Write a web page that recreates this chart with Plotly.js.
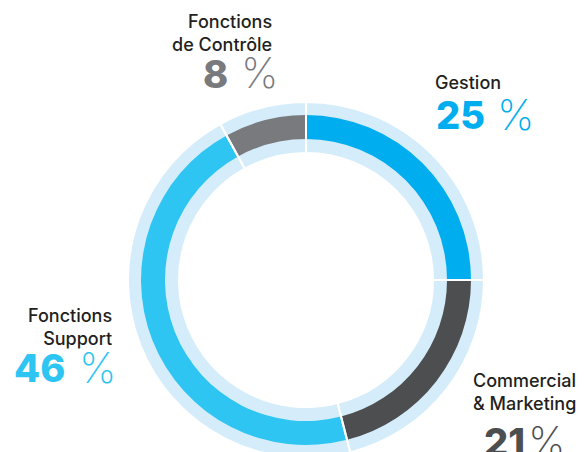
<!DOCTYPE html>
<html>
<head>
<meta charset="utf-8">
<script src="https://cdn.plot.ly/plotly-3.0.1.min.js"></script>
<style>
html,body{margin:0;padding:0;background:#fff;overflow:hidden;width:587px;height:452px;}
#chart{width:587px;height:460px;}
</style>
</head>
<body>
<div id="chart"></div>
<script>
// ---- data ----
const categories = ['Gestion', 'Commercial & Marketing', 'Fonctions Support', 'Fonctions de Contrôle'];
const values = [25, 21, 46, 8];
const labelText = ['Gestion', 'Commercial<br>& Marketing', 'Fonctions<br>Support', 'Fonctions<br>de Contrôle'];
const valueText = ['25', '21', '46', '8'];
const unitText = '%';

// ---- styles ----
const sliceColors = ['#00AEEF', '#4D4E50', '#2EC5F2', '#797A7D'];
const ringColor = '#D5EDFA';
const W = 587, H = 460;
const cx = 306, cy = 280;          // centre in px (from top)
const rOuter = 178, rInnerLight = 127;
const rColOut = 165, rColIn = 141;

function dom(r){
  const cyb = H - cy;
  return {x:[(cx - r)/W, (cx + r)/W], y:[(cyb - r)/H, (cyb + r)/H]};
}

const common = {type:'pie', labels:categories, values:values, sort:false,
  direction:'clockwise', rotation:0, textinfo:'none', hoverinfo:'none', showlegend:false};

const traces = [
  Object.assign({}, common, {domain:dom(rOuter), hole:rInnerLight/rOuter,
    marker:{colors:categories.map(()=>ringColor), line:{width:0}}}),
  Object.assign({}, common, {domain:dom(rColOut), hole:rColIn/rColOut,
    marker:{colors:sliceColors, line:{width:0}}}),
  Object.assign({}, common, {domain:dom(rOuter), hole:rInnerLight/rOuter,
    marker:{colors:categories.map(()=>'rgba(0,0,0,0)'), line:{width:2, color:'#ffffff'}}})
];

// placement (px): label x, label anchor, label centre y, number right x, % left x, number centre y
const place = [
  [434, 'left', 83, 486, 496, 115],
  [472, 'left', 392, 526, 527, 442],
  [113, 'right', 327, 66, 78, 368],
  [273, 'right', 33, 229, 240, 74]
];

const FONT = 'Inter, "Open Sans", Arial, sans-serif';
const annotations = [];
categories.forEach((c, i) => {
  const p = place[i];
  annotations.push({xref:'paper', yref:'paper', x:p[0]/W, y:1 - p[2]/H,
    xanchor:p[1], yanchor:'middle', align:p[1], showarrow:false,
    text:labelText[i], font:{family:FONT, size:18, color:'#231F20', weight:500}, borderpad:0});
  annotations.push({xref:'paper', yref:'paper', x:p[3]/W, y:1 - p[5]/H,
    xanchor:'right', yanchor:'middle', showarrow:false,
    text:valueText[i], font:{family:FONT, size:38, color:sliceColors[i], weight:800}, borderpad:0});
  annotations.push({xref:'paper', yref:'paper', x:p[4]/W, y:1 - (p[5] - 1)/H,
    xanchor:'left', yanchor:'middle', showarrow:false,
    text:unitText, font:{family:FONT, size:42, color:sliceColors[i], weight:200}, borderpad:0});
});

const layout = {width:W, height:H, margin:{l:0, r:0, t:0, b:0},
  paper_bgcolor:'#fff', plot_bgcolor:'#fff', annotations:annotations};

Plotly.newPlot('chart', traces, layout, {staticPlot:true, displayModeBar:false});
</script>
</body>
</html>
